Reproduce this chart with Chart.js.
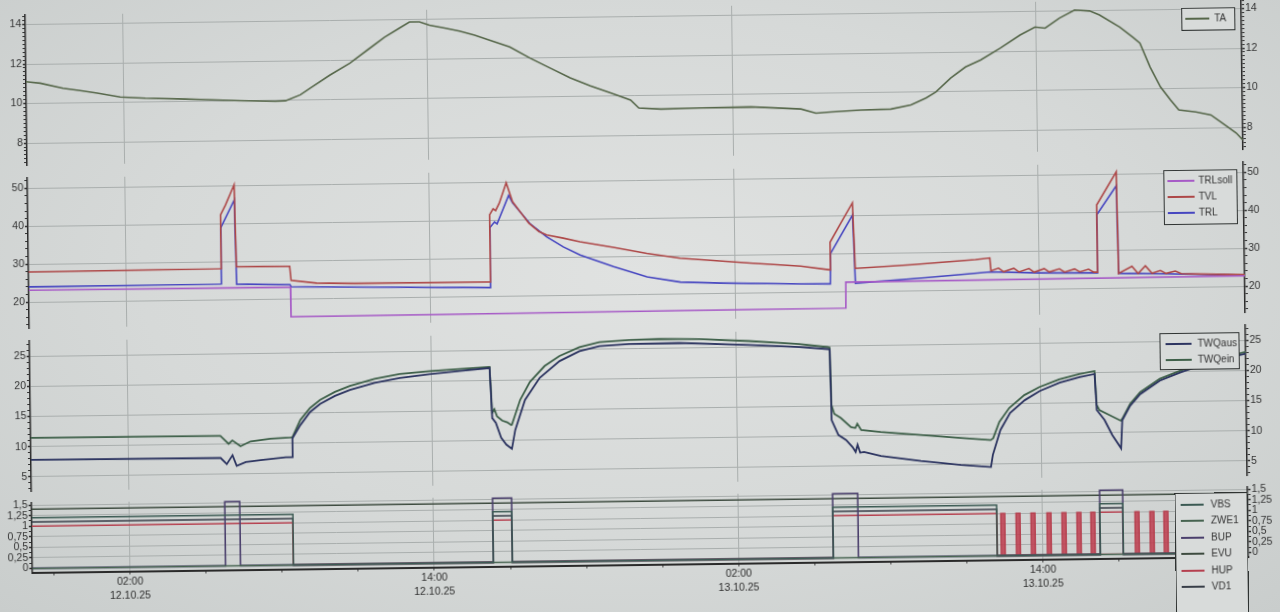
<!DOCTYPE html>
<html>
<head>
<meta charset="utf-8">
<script src="https://cdn.jsdelivr.net/npm/chart.js@4.4.1/dist/chart.umd.min.js"></script>
<style>
  html, body { margin: 0; padding: 0; }
  body {
    width: 1280px; height: 612px; overflow: hidden;
    background: radial-gradient(ellipse at 50% 45%, #e0e2e1 0%, #d6d9d8 55%, #c9cdcc 100%);
    font-family: 'Liberation Sans', Arial, sans-serif;
  }
  #board { position: absolute; left: 0; top: 0; width: 1280px; height: 612px;
           transform: rotate(-0.75deg); transform-origin: 640px 306px; }
  #board canvas { position: absolute; left: 0; }
  .legend { position: absolute; box-sizing: border-box; border: 1.5px solid #2f3332;
            background: #d8dbda; color: #333; font-size: 10px; }
  .legend .ll { position: absolute; height: 2px; }
  .legend .lt { position: absolute; line-height: 14px; white-space: nowrap; }
</style>
</head>
<body>
<div id="board">
  <canvas id="c1" width="1280" height="170" style="top:-3px;width:1280px;height:170px"></canvas>
  <canvas id="c2" width="1280" height="170" style="top:160px;width:1280px;height:170px"></canvas>
  <canvas id="c3" width="1280" height="170" style="top:323px;width:1280px;height:170px"></canvas>
  <canvas id="c4" width="1280" height="127" style="top:485px;width:1280px;height:127px"></canvas>
</div>
<script>
// time axis = hours since 12.10.25 00:00
const X_MIN = -1.85, X_MAX = 46.1;
const xTickHours = [-1, 2, 5, 8, 11, 14, 17, 20, 23, 26, 29, 32, 35, 38, 41, 44];
const xLabelHours = [2, 14, 26, 38];
const xLabelText = [['02:00', '12.10.25'], ['14:00', '12.10.25'], ['02:00', '13.10.25'], ['14:00', '13.10.25']];

// panel 1 : outside temperature
const taTicks = [8, 10, 12, 14];
const taTime = [
  -1.85, -1.29, -0.39, 0.28, 0.95, 1.86, 2.85, 4.42, 5.02, 6.59,
  7.97, 8.37, 8.96, 9.35, 10.14, 10.93, 11.72, 12.31, 12.90, 13.30,
  13.69, 14.09, 14.68, 15.27, 15.86, 16.45, 17.24, 18.03, 18.82, 19.61,
  20.40, 21.19, 21.98, 22.30, 23.17, 24.75, 26.72, 28.69, 29.28, 29.87,
  31.06, 32.24, 33.03, 33.63, 34.02, 34.61, 35.20, 35.80, 36.58, 37.37,
  37.96, 38.36, 38.93, 39.53, 40.12, 40.51, 41.30, 41.81, 42.09, 42.48,
  42.88, 43.27, 43.59, 44.26, 44.85, 45.24, 45.84, 46.10];
const taValue = [
  11.10, 11.02, 10.75, 10.62, 10.48, 10.27, 10.19, 10.12, 10.09, 10.00,
  9.95, 9.97, 10.26, 10.59, 11.24, 11.83, 12.57, 13.12, 13.57, 13.87,
  13.87, 13.70, 13.54, 13.38, 13.16, 12.90, 12.54, 11.97, 11.45, 10.94,
  10.52, 10.15, 9.78, 9.37, 9.30, 9.33, 9.35, 9.21, 8.99, 9.04,
  9.12, 9.15, 9.34, 9.69, 9.98, 10.68, 11.23, 11.57, 12.16, 12.81,
  13.20, 13.14, 13.64, 14.04, 13.98, 13.77, 13.15, 12.63, 12.32, 11.10,
  10.09, 9.42, 8.91, 8.80, 8.64, 8.27, 7.71, 7.35];

// panel 2 : heating circuit
const heatTicks = [20, 30, 40, 50];
const trlsollTime = [-1.85, 8.47, 8.48, 30.36, 30.37, 46.10];
const trlsollValue = [23.1, 23.0, 15.2, 15.6, 22.4, 22.7];
const tvlTime = [
  -1.85, 5.73, 5.75, 5.95, 6.30, 6.35, 8.45, 8.50, 9.50, 11.00,
  16.34, 16.36, 16.50, 16.60, 16.75, 17.03, 17.27, 17.60, 17.90, 18.30,
  18.60, 19.25, 19.91, 21.22, 22.54, 23.85, 26.60, 28.60, 29.75, 29.77,
  30.20, 30.67, 30.75, 33.00, 35.50, 36.06, 36.10, 36.40, 36.60, 37.00,
  37.20, 37.60, 37.80, 38.20, 38.40, 38.80, 39.00, 39.40, 39.60, 39.95,
  40.15, 40.28, 40.30, 41.09, 41.13, 41.66, 41.90, 42.19, 42.45, 42.78,
  43.00, 43.37, 43.60, 45.00, 46.10];
const tvlValue = [
  27.9, 28.1, 42.3, 44.9, 50.2, 28.6, 28.5, 24.8, 24.0, 23.8,
  23.7, 41.4, 43.0, 42.5, 44.5, 49.8, 44.8, 41.8, 39.1, 36.8,
  35.9, 35.0, 34.0, 32.4, 30.7, 29.3, 27.8, 26.8, 25.7, 33.0,
  38.0, 43.3, 26.0, 26.8, 27.9, 28.3, 24.9, 25.6, 24.6, 25.5,
  24.5, 25.4, 24.4, 25.3, 24.4, 25.2, 24.3, 25.1, 24.3, 25.0,
  24.2, 24.2, 41.9, 50.6, 23.8, 25.6, 23.7, 25.7, 23.7, 24.4,
  23.6, 24.2, 23.5, 23.2, 23.0];
const trlTime = [
  -1.85, 5.73, 5.75, 6.30, 6.35, 8.45, 8.50, 12.00, 16.34, 16.36,
  16.55, 16.65, 17.12, 17.27, 17.94, 18.60, 19.25, 19.91, 21.22, 22.54,
  23.85, 25.43, 28.58, 29.76, 29.78, 30.67, 30.75, 33.50, 36.08, 38.00,
  40.28, 40.30, 41.09, 41.13, 43.00, 46.10];
const trlValue = [
  24.0, 24.1, 38.9, 46.2, 24.0, 23.7, 23.1, 22.7, 22.2, 38.0,
  39.5, 39.0, 46.5, 44.5, 39.0, 35.4, 32.7, 30.5, 27.3, 24.5,
  23.0, 22.6, 22.1, 22.0, 30.0, 40.1, 22.1, 23.3, 24.6, 24.2,
  24.0, 39.3, 47.0, 23.8, 23.5, 22.9];

// panel 3 : heat source
const sourceTicks = [5, 10, 15, 20, 25];
const twqausTime = [
  -1.85, 5.63, 5.87, 6.10, 6.26, 6.62, 7.21, 8.20, 8.45, 8.47,
  8.79, 9.18, 9.58, 10.17, 10.76, 11.74, 12.73, 13.91, 15.10, 16.28,
  16.36, 16.50, 16.70, 16.90, 17.10, 17.12, 17.26, 17.66, 18.25, 19.04,
  19.83, 20.62, 21.80, 23.77, 26.53, 28.50, 29.61, 29.70, 29.74, 30.00,
  30.30, 30.55, 30.67, 30.75, 30.85, 31.00, 31.67, 33.24, 34.82, 36.00,
  36.08, 36.39, 36.78, 37.37, 37.96, 38.75, 39.54, 40.13, 40.20, 40.50,
  40.80, 41.14, 41.20, 41.52, 41.92, 42.70, 43.50, 44.70, 46.10];
const twqausValue = [
  7.80, 7.70, 6.68, 8.14, 6.36, 6.98, 7.28, 7.69, 7.70, 10.81,
  13.00, 15.14, 16.45, 17.76, 18.73, 19.84, 20.59, 21.18, 21.63, 22.06,
  13.75, 12.95, 10.46, 9.31, 8.65, 8.60, 11.70, 16.67, 20.30, 23.04,
  24.65, 25.46, 25.73, 25.80, 25.31, 24.87, 24.47, 24.40, 12.68, 10.18,
  9.33, 8.15, 7.32, 8.50, 7.20, 7.31, 6.60, 5.68, 4.93, 4.53,
  6.54, 10.66, 13.45, 15.57, 17.05, 18.38, 19.27, 19.74, 13.76, 12.09,
  9.58, 7.36, 12.00, 14.40, 16.30, 18.50, 19.80, 21.50, 22.80];
const twqeinTime = [
  -1.85, 5.63, 5.95, 6.10, 6.42, 6.82, 7.60, 8.39, 8.47, 8.79,
  9.18, 9.58, 10.17, 10.76, 11.74, 12.73, 13.91, 15.10, 16.28, 16.36,
  16.45, 16.55, 16.75, 16.95, 17.10, 17.13, 17.47, 17.86, 18.45, 19.04,
  19.83, 20.62, 21.80, 22.98, 24.56, 26.53, 28.50, 29.61, 29.70, 29.74,
  29.85, 30.10, 30.50, 30.67, 30.75, 30.90, 31.67, 33.24, 34.82, 36.00,
  36.10, 36.35, 36.75, 37.35, 37.95, 38.73, 39.52, 40.13, 40.20, 40.30,
  40.70, 41.14, 41.20, 41.52, 41.92, 42.70, 43.50, 44.70, 46.10];
const twqeinValue = [
  11.45, 11.36, 10.03, 10.60, 9.60, 10.40, 10.81, 10.96, 11.00, 13.83,
  15.80, 17.12, 18.43, 19.39, 20.50, 21.25, 21.68, 21.96, 22.23, 14.58,
  15.20, 14.00, 13.30, 13.00, 12.55, 12.60, 16.70, 19.64, 22.26, 23.89,
  25.31, 26.12, 26.39, 26.50, 26.41, 25.96, 25.37, 24.80, 24.70, 15.17,
  13.68, 13.00, 11.47, 11.31, 12.00, 10.96, 10.59, 10.00, 9.42, 9.00,
  9.30, 12.00, 14.30, 16.40, 17.70, 18.94, 19.77, 20.24, 14.60, 13.76,
  12.90, 11.94, 12.24, 14.71, 16.64, 18.80, 20.09, 21.81, 23.07];

// panel 4 : digital signals (value holds from its time until the next one)
const digitalTicks = [0, 0.25, 0.5, 0.75, 1, 1.25, 1.5];
const runTime = [-1.85, 8.45, 16.33, 17.08, 29.74, 36.2, 40.27, 41.18, 46.1];
const vbsValue = [1.2, 0, 1.2, 0, 1.2, 0, 1.2, 0, 0];
const vd1Value = [1.1, 0, 1.1, 0, 1.1, 0, 1.1, 0, 0];
const hupRunValue = [1, 0, 1, 0, 1, 0, 1, 0, 0];
const bupTime = [-1.85, 5.77, 6.36, 16.33, 17.08, 29.74, 30.73, 40.27, 41.18, 46.1];
const bupValue = [0, 1.52, 0, 1.52, 0, 1.52, 0, 1.52, 0, 0];
const evuTime = [-1.85, 46.1];
const evuValue = [1.4, 1.4];
const zwe1Time = [-1.85, 46.1];
const zwe1Value = [0, 0];
// short HUP pulses after the heating run
const hupPulseTime = [
  36.2, 36.36, 36.52, 36.96, 37.12, 37.55, 37.71, 38.18, 38.34, 38.77,
  38.93, 39.36, 39.52, 39.91, 40.07, 41.18, 41.65, 41.81, 42.24, 42.40,
  42.79, 42.95, 43.37, 43.53, 43.95, 44.11, 44.55, 44.71, 45.12, 45.28,
  45.70, 45.86, 46.1];
const hupPulseValue = [
  0, 1, 0, 1, 0, 1, 0, 1, 0, 1,
  0, 1, 0, 1, 0, 0, 1, 0, 1, 0,
  1, 0, 1, 0, 1, 0, 1, 0, 1, 0,
  1, 0, 0];

const FONT = "'Liberation Sans', Arial, sans-serif";
const GRID = '#a9aead';
const INK = '#333';
const HUP_RED = '#b5404f';
Chart.defaults.font.family = FONT;
Chart.defaults.font.size = 10.5;
Chart.defaults.color = INK;

function pts(t, v) { return t.map((x, i) => ({ x: x, y: v[i] })); }

function line(label, t, v, color, width, stepped) {
  return { label: label, data: pts(t, v), borderColor: color, borderWidth: width,
           pointRadius: 0, tension: 0, fill: false, stepped: !!stepped };
}

function isIn(list, v) { return list.some(m => Math.abs(m - v) < 1e-6); }

function xAxis(showLabels) {
  return {
    type: 'linear', min: X_MIN, max: X_MAX,
    afterBuildTicks: s => { s.ticks = xTickHours.map(v => ({ value: v })); },
    afterFit: s => { s.height = showLabels ? 40 : 0; },
    ticks: {
      display: showLabels, autoSkip: false, maxRotation: 0, padding: 0, color: '#2e2e2e',
      font: { size: 10.5, lineHeight: 1.36 },
      callback: v => { const i = xLabelHours.indexOf(v); return i < 0 ? '' : xLabelText[i]; }
    },
    grid: { color: c => (c.tick && xLabelHours.includes(c.tick.value)) ? GRID : 'rgba(0,0,0,0)',
            drawTicks: showLabels, tickLength: 3, tickColor: INK, lineWidth: 1 },
    border: { display: showLabels, color: '#2a2a2a', width: 2 }
  };
}

function yAxis(pos, min, max, major, minorStep, fmt) {
  return {
    type: 'linear', position: pos, min: min, max: max,
    afterBuildTicks: s => {
      const t = [];
      for (let v = Math.ceil(min / minorStep - 1e-9) * minorStep; v <= max + 1e-9; v += minorStep) {
        t.push({ value: +v.toFixed(4) });
      }
      s.ticks = t;
    },
    afterFit: s => { s.width = pos === 'left' ? 29 : 35; },
    ticks: { autoSkip: false, padding: 1, color: INK,
             callback: v => isIn(major, v) ? fmt(v) : '' },
    grid: { drawOnChartArea: pos === 'left',
            color: c => (c.tick && isIn(major, c.tick.value)) ? GRID : 'rgba(0,0,0,0)',
            tickColor: INK, tickLength: 3,
            tickWidth: c => (c.tick && isIn(major, c.tick.value)) ? 1.5 : 1 },
    border: { color: '#2a2a2a', width: 1.5 }
  };
}

function panel(id, datasets, min, max, major, minorStep, fmt, bottomAxis, padBottom) {
  return new Chart(document.getElementById(id), {
    type: 'line',
    data: { datasets: datasets },
    options: {
      responsive: false, animation: false, events: [],
      layout: { padding: { top: 10, bottom: padBottom, left: 0, right: 0 } },
      plugins: { legend: { display: false }, tooltip: { enabled: false } },
      scales: {
        x: xAxis(bottomAxis),
        y: yAxis('left', min, max, major, minorStep, fmt),
        y2: yAxis('right', min, max, major, minorStep, fmt)
      }
    }
  });
}

const plain = v => String(v);
const comma = v => String(v).replace('.', ',');

panel('c1', [line('TA', taTime, taValue, '#56674a', 1.6)],
      6.89, 14.48, taTicks, 0.2, plain, false, 10);

panel('c2', [
  line('TRLsoll', trlsollTime, trlsollValue, '#a65ac6', 1.6),
  line('TVL', tvlTime, tvlValue, '#ad4747', 1.6),
  line('TRL', trlTime, trlValue, '#4646c0', 1.6)
], 13.14, 52.72, heatTicks, 2, plain, false, 10);

panel('c3', [
  line('TWQaus', twqausTime, twqausValue, '#2c3460', 1.8),
  line('TWQein', twqeinTime, twqeinValue, '#3e6049', 1.8)
], 2.64, 27.54, sourceTicks, 1, plain, false, 10);

const hupPulses = line('HUP', hupPulseTime, hupPulseValue, HUP_RED, 1.4, true);
hupPulses.fill = 'origin';
hupPulses.backgroundColor = 'rgba(190,60,78,0.85)';

panel('c4', [
  line('VBS', runTime, vbsValue, '#3b5a53', 1.5, true),
  line('ZWE1', zwe1Time, zwe1Value, '#466350', 1.5, true),
  line('BUP', bupTime, bupValue, '#4a3f6c', 1.6, true),
  line('EVU', evuTime, evuValue, '#3d4b3f', 1.5, true),
  line('HUP', runTime, hupRunValue, HUP_RED, 1.6, true),
  hupPulses,
  line('VD1', runTime, vd1Value, '#383e48', 1.5, true)
], -0.1, 1.55, digitalTicks, 0.125, comma, true, 7.4);

// legends
const board = document.getElementById('board');
function addLegend(names, colors, box) {
  const div = document.createElement('div');
  div.className = 'legend';
  Object.assign(div.style, { left: box.left + 'px', top: box.top + 'px',
                             width: box.width + 'px', height: box.height + 'px' });
  names.forEach((n, i) => {
    const y = box.firstY + i * box.step;
    const l = document.createElement('div');
    l.className = 'll';
    Object.assign(l.style, { left: box.lineX + 'px', top: (y - 1) + 'px',
                             width: box.lineW + 'px', background: colors[i] });
    const t = document.createElement('span');
    t.className = 'lt';
    t.textContent = n;
    Object.assign(t.style, { left: box.textX + 'px', top: (y - 7) + 'px' });
    div.append(l, t);
  });
  board.appendChild(div);
}

addLegend(['TA'], ['#56674a'],
  { left: 1185, top: 15, width: 54, height: 23, firstY: 10, step: 16, lineX: 3, lineW: 24, textX: 32 });
addLegend(['TRLsoll', 'TVL', 'TRL'], ['#a65ac6', '#ad4747', '#4646c0'],
  { left: 1165, top: 177, width: 74, height: 55, firstY: 10, step: 16.2, lineX: 3, lineW: 27, textX: 34 });
addLegend(['TWQaus', 'TWQein'], ['#2c3460', '#3e6049'],
  { left: 1159, top: 340, width: 80, height: 37, firstY: 9.5, step: 16, lineX: 5, lineW: 26, textX: 37 });
addLegend(['VBS', 'ZWE1', 'BUP', 'EVU', 'HUP', 'VD1'],
  ['#3b5a53', '#466350', '#4a3f6c', '#3d4b3f', HUP_RED, '#383e48'],
  { left: 1172, top: 500, width: 73, height: 130, firstY: 10.5, step: 16.5, lineX: 5, lineW: 23, textX: 35 });
</script>
</body>
</html>
